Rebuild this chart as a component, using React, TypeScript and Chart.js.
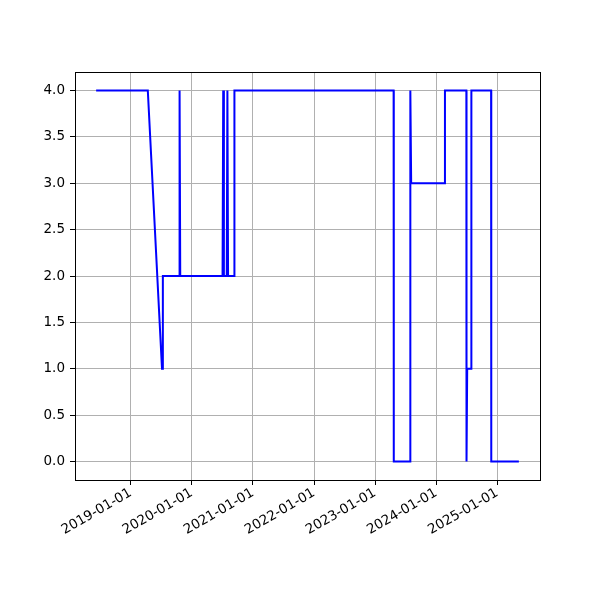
import React, { useEffect, useRef } from "react";
import { Chart, registerables } from "chart.js";

Chart.register(...registerables);

const dates: string[] = [
  "2018-06-08", "2019-04-13", "2019-07-07", "2019-07-12",
  "2019-10-17", "2019-10-20", "2019-10-24",
  "2020-07-03", "2020-07-07", "2020-07-11",
  "2020-07-28", "2020-08-01", "2020-08-05",
  "2020-09-11", "2020-09-12",
  "2023-04-22", "2023-04-23", "2023-07-30", "2023-07-31", "2023-08-05",
  "2024-02-22", "2024-02-23", "2024-06-30", "2024-07-01", "2024-07-05",
  "2024-07-29", "2024-07-30", "2024-11-25", "2024-11-26", "2025-05-10",
];
const values: number[] = [
  4, 4, 1, 2,
  2, 4, 2,
  2, 4, 2,
  2, 4, 2,
  2, 4,
  4, 0, 0, 4, 3,
  3, 4, 4, 0, 1,
  1, 4, 4, 0, 0,
];
const tickYears: number[] = [2019, 2020, 2021, 2022, 2023, 2024, 2025];
const yTicks: number[] = [0, 0.5, 1, 1.5, 2, 2.5, 3, 3.5, 4];

const DAY = 86400000;
const toDays = (s: string) => {
  const [y, m, d] = s.split("-").map(Number);
  return Date.UTC(y, m - 1, d) / DAY;
};
const fmtDay = (v: number) => {
  const dt = new Date(Math.round(v) * DAY);
  const y = dt.getUTCFullYear();
  const m = String(dt.getUTCMonth() + 1).padStart(2, "0");
  const d = String(dt.getUTCDate()).padStart(2, "0");
  return `${y}-${m}-${d}`;
};

export default function App() {
  const ref = useRef<HTMLCanvasElement | null>(null);

  useEffect(() => {
    if (!ref.current) return;
    const xs = dates.map(toDays);
    const xmin = Math.min(...xs);
    const xmax = Math.max(...xs);
    const xm = (xmax - xmin) * 0.05;
    const vmin = Math.min(...values);
    const vmax = Math.max(...values);
    const ym = (vmax - vmin) * 0.05;
    const font = { family: "'DejaVu Sans', sans-serif", size: 13.5 };

    const frame = {
      id: "frame",
      afterDraw(chart: any) {
        const { ctx, chartArea: a } = chart;
        ctx.save();
        ctx.strokeStyle = "#000";
        ctx.lineWidth = 1;
        ctx.strokeRect(Math.round(a.left) + 0.5, Math.round(a.top) + 0.5, Math.round(a.right - a.left), Math.round(a.bottom - a.top));
        ctx.restore();
      },
    };

    const chart = new Chart(ref.current, {
      type: "line",
      data: {
        datasets: [
          {
            data: xs.map((x, i) => ({ x, y: values[i] })),
            borderColor: "#0000ff",
            borderWidth: 2,
            pointRadius: 0,
            tension: 0,
            fill: false,
          },
        ],
      },
      options: {
        animation: false,
        responsive: false,
        parsing: false as any,
        layout: { padding: { left: 0, top: 72, right: 60, bottom: 0 } },
        plugins: { legend: { display: false }, tooltip: { enabled: false } },
        scales: {
          x: {
            type: "linear",
            min: xmin - xm,
            max: xmax + xm,
            afterBuildTicks: (s: any) => {
              s.ticks = tickYears.map((y) => ({ value: Date.UTC(y, 0, 1) / DAY }));
            },
            afterFit: (s: any) => {
              s.height = 120;
            },
            grid: { color: "#b0b0b0", lineWidth: 1, tickColor: "#000", tickLength: 5, tickWidth: 1 },
            border: { display: false },
            ticks: {
              color: "#000",
              font,
              minRotation: 30,
              maxRotation: 30,
              padding: 0,
              autoSkip: false,
              callback: (v: any) => fmtDay(Number(v)),
            },
          },
          y: {
            type: "linear",
            min: vmin - ym,
            max: vmax + ym,
            afterBuildTicks: (s: any) => {
              s.ticks = yTicks.map((v) => ({ value: v }));
            },
            afterFit: (s: any) => {
              s.width = 75;
            },
            grid: { color: "#b0b0b0", lineWidth: 1, tickColor: "#000", tickLength: 5, tickWidth: 1 },
            border: { display: false },
            ticks: {
              color: "#000",
              font,
              padding: 5,
              callback: (v: any) => Number(v).toFixed(1),
            },
          },
        },
      },
      plugins: [frame],
    });
    return () => chart.destroy();
  }, []);

  return (
    <div style={{ position: "fixed", left: 0, top: 0, width: 600, height: 600, background: "#fff" }}>
      <canvas ref={ref} width={600} height={600} />
    </div>
  );
}
